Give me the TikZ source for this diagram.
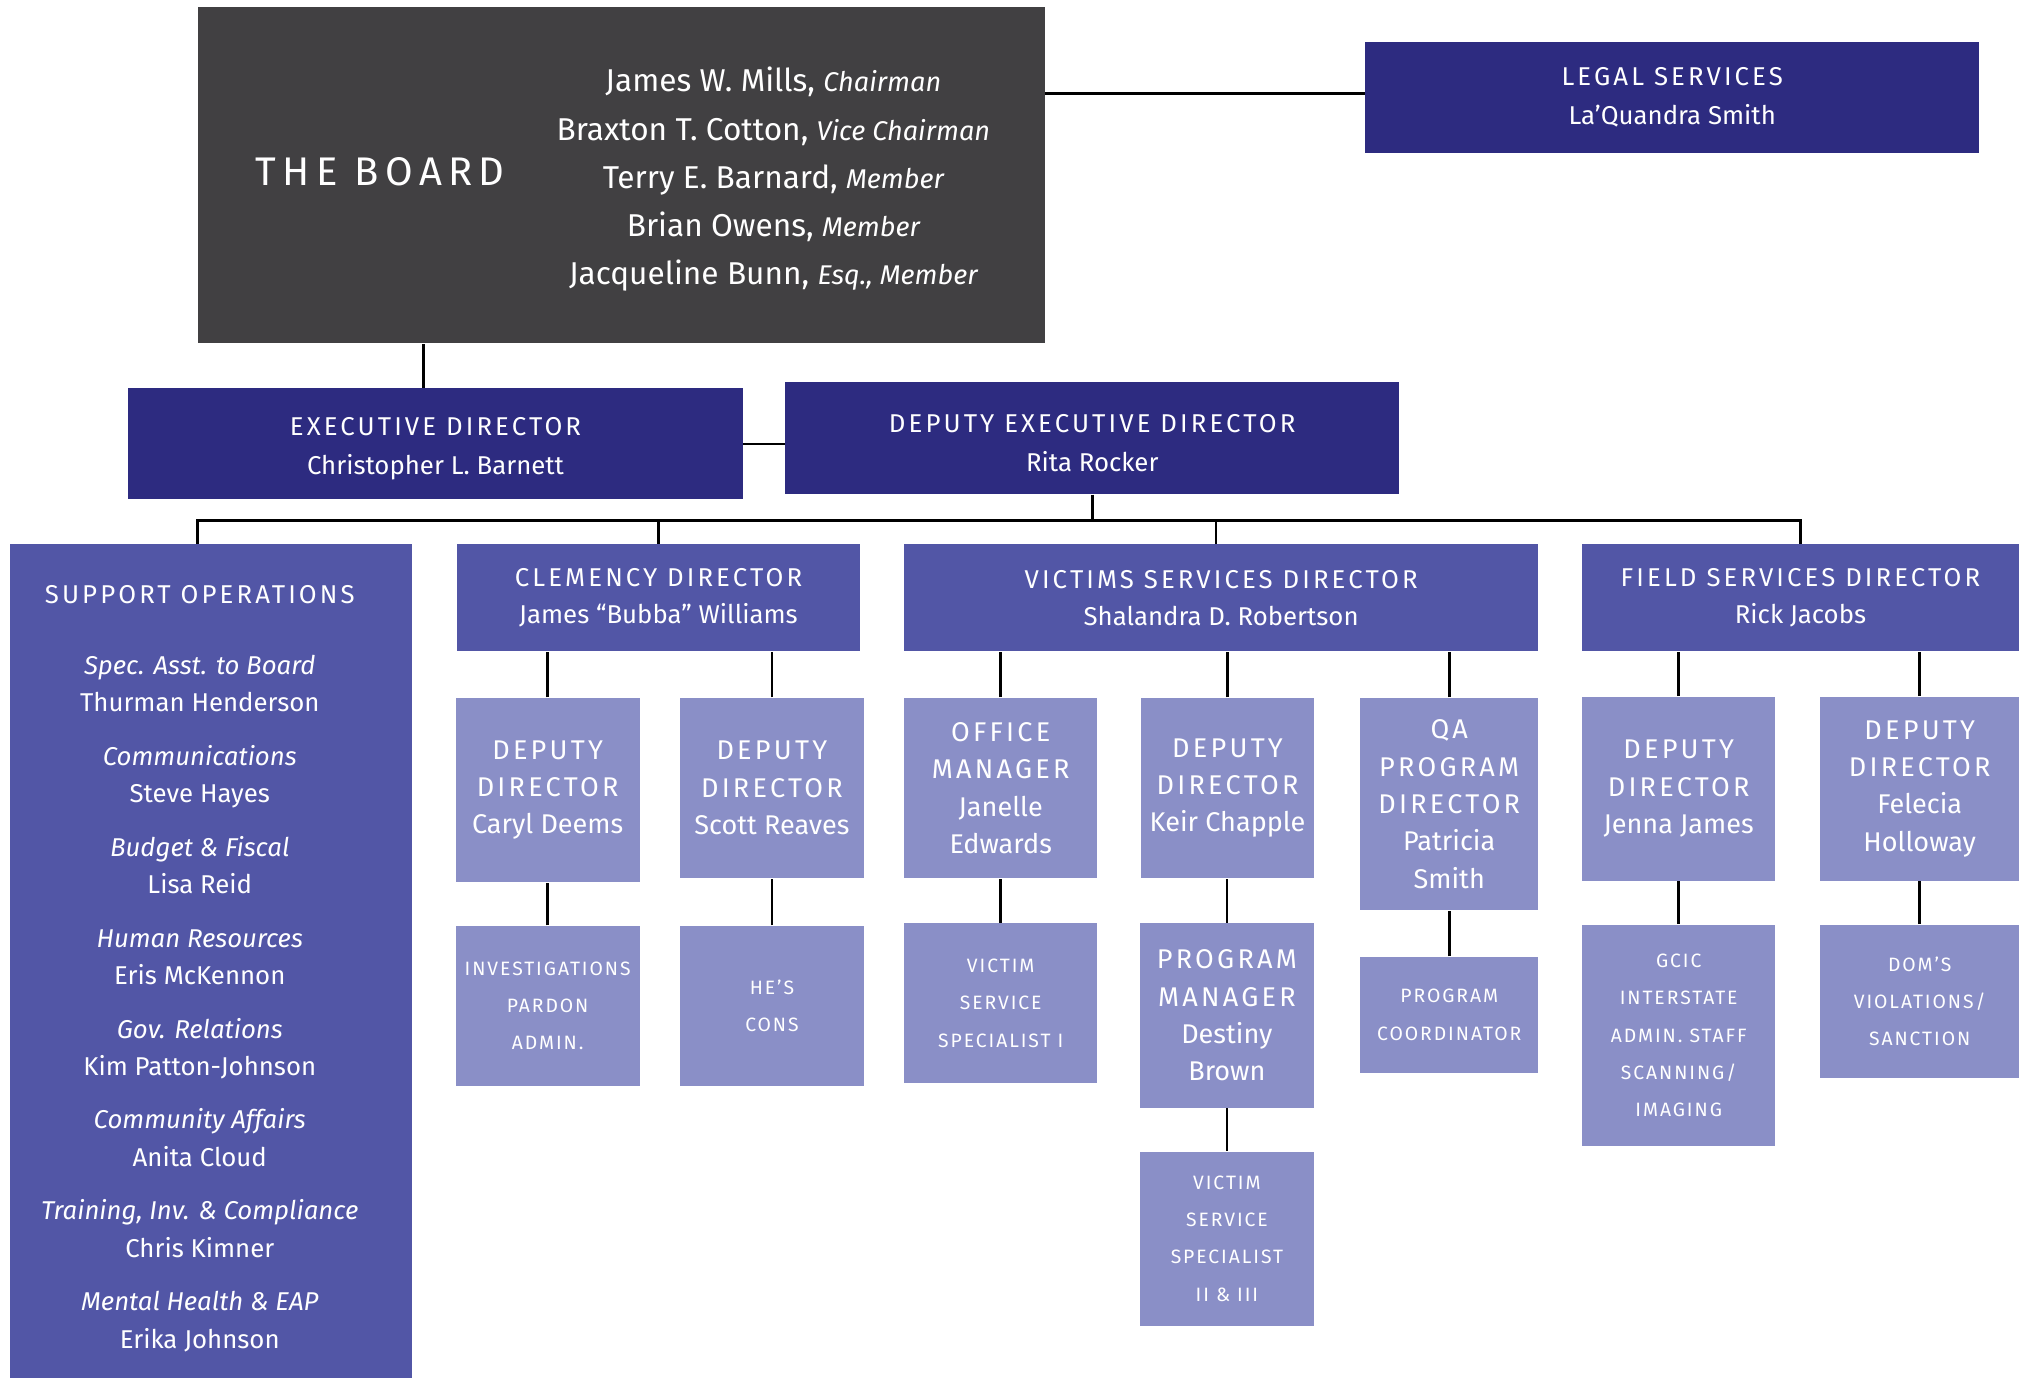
\documentclass[tikz,border=0pt]{standalone}
\usepackage{fontspec}
\setmainfont{Fira Sans}
\usepackage{tikz}
\usepackage{xcolor}
\definecolor{boardgray}{RGB}{65,64,66}
\definecolor{navy}{RGB}{45,43,128}
\definecolor{midblue}{RGB}{82,86,166}
\definecolor{lightblue}{RGB}{138,143,199}
\newcommand{\spaced}[1]{{\addfontfeature{LetterSpace=12}#1}}
\newcommand{\role}[1]{{\itshape #1}}
\newcommand{\seat}[1]{{\fontsize{10.5}{18.65}\selectfont\itshape #1}}

\begin{document}
\begin{tikzpicture}[x=0.5pt,y=-0.5pt,
    box/.style={anchor=north west,inner sep=0pt,align=center,text=white},
    headbox/.style={box,fill=navy,font=\fontsize{10}{15}\selectfont},
    dirbox/.style={box,fill=midblue,font=\fontsize{10}{14.5}\selectfont},
    subbox/.style={box,fill=lightblue,font=\fontsize{10.5}{14.5}\selectfont},
    smallbox/.style={box,fill=lightblue,font=\fontsize{7.5}{14.5}\selectfont\addfontfeature{LetterSpace=10}},
    conn/.style={draw=black,line width=1pt}]

    \useasboundingbox (0,0) rectangle (1568,1069);

    % board and legal
    \node[box,fill=boardgray,minimum width=328.5pt,minimum height=130.5pt] (board) at (153,5) {};
    \node[text=white,font=\fontsize{15.5}{18}\selectfont] (boardtitle) at (295,133)
        {{\addfontfeature{LetterSpace=16}THE BOARD}};
    \node[text=white,align=center,font=\fontsize{12.25}{18.65}\selectfont] (members) at (600,139)
        {James W. Mills, \seat{Chairman}\\
         Braxton T. Cotton, \seat{Vice Chairman}\\
         Terry E. Barnard, \seat{Member}\\
         Brian Owens, \seat{Member}\\
         Jacqueline Bunn, \seat{Esq., Member}};

    \node[headbox,minimum width=238pt,minimum height=43pt] (legal) at (1059,32)
        {\spaced{LEGAL SERVICES}\\ La’Quandra Smith};

    % executive level
    \node[headbox,minimum width=238.5pt,minimum height=43pt] (exec) at (99,301)
        {\rule{0pt}{10.9pt}\spaced{EXECUTIVE DIRECTOR}\\ Christopher L. Barnett};
    \node[headbox,minimum width=238pt,minimum height=43.5pt] (depexec) at (609,296)
        {\rule{0pt}{10.9pt}\spaced{DEPUTY EXECUTIVE DIRECTOR}\\ Rita Rocker};

    % directors
    \node[box,fill=midblue,minimum width=156pt,minimum height=323.5pt] (supp) at (7,422) {};
    \node[text=white,align=center,inner sep=0pt,font=\fontsize{10}{14.5}\selectfont] (supptext) at (155,751.5)
        {\spaced{SUPPORT OPERATIONS}\\[13pt]
         \role{Spec. Asst. to Board}\\ Thurman Henderson\\[6.25pt]
         \role{Communications}\\ Steve Hayes\\[6.25pt]
         \role{Budget \& Fiscal}\\ Lisa Reid\\[6.25pt]
         \role{Human Resources}\\ Eris McKennon\\[6.25pt]
         \role{Gov. Relations}\\ Kim Patton-Johnson\\[6.25pt]
         \role{Community Affairs}\\ Anita Cloud\\[6.25pt]
         \role{Training, Inv. \& Compliance}\\ Chris Kimner\\[6.25pt]
         \role{Mental Health \& EAP}\\ Erika Johnson};
    \node[dirbox,minimum width=156.5pt,minimum height=41.5pt] (clem) at (354,422)
        {\spaced{CLEMENCY DIRECTOR}\\ James “Bubba” Williams};
    \node[dirbox,minimum width=246pt,minimum height=41.5pt] (vict) at (701,422)
        {\spaced{VICTIMS SERVICES DIRECTOR}\\ Shalandra D. Robertson};
    \node[dirbox,minimum width=169.5pt,minimum height=41.5pt] (field) at (1227,422)
        {\spaced{FIELD SERVICES DIRECTOR}\\ Rick Jacobs};

    % clemency
    \node[subbox,minimum width=71.5pt,minimum height=71.5pt] (caryl) at (353,541)
        {\spaced{DEPUTY}\\ \spaced{DIRECTOR}\\ Caryl Deems};
    \node[subbox,minimum width=71.5pt,minimum height=70pt] (scott) at (527,541)
        {\spaced{DEPUTY}\\ \spaced{DIRECTOR}\\ Scott Reaves};
    \node[smallbox,minimum width=71.5pt,minimum height=62pt] (inv) at (353,718)
        {INVESTIGATIONS\\ PARDON\\ ADMIN.};
    \node[smallbox,minimum width=71.5pt,minimum height=62pt] (hes) at (527,718)
        {HE’S\\ CONS};

    % victims services
    \node[subbox,minimum width=75pt,minimum height=70pt] (office) at (701,541)
        {\spaced{OFFICE}\\ \spaced{MANAGER}\\ Janelle\\ Edwards};
    \node[smallbox,minimum width=75pt,minimum height=62pt] (vss1) at (701,716)
        {VICTIM\\ SERVICE\\ SPECIALIST I};
    \node[subbox,minimum width=67pt,minimum height=70pt] (keir) at (885,541)
        {\spaced{DEPUTY}\\ \spaced{DIRECTOR}\\ Keir Chapple};
    \node[subbox,minimum width=67.5pt,minimum height=71.5pt] (pm) at (884,716)
        {\spaced{PROGRAM}\\ \spaced{MANAGER}\\ Destiny\\ Brown};
    \node[smallbox,minimum width=67.5pt,minimum height=67.5pt] (vss2) at (884,893)
        {VICTIM\\ SERVICE\\ SPECIALIST\\ II \& III};
    \node[subbox,minimum width=69pt,minimum height=82.5pt] (qa) at (1055,541)
        {\spaced{QA}\\ \spaced{PROGRAM}\\ \spaced{DIRECTOR}\\ Patricia\\ Smith};
    \node[smallbox,minimum width=69pt,minimum height=45pt] (coord) at (1055,742)
        {PROGRAM\\ COORDINATOR};

    % field services
    \node[subbox,minimum width=75pt,minimum height=71.5pt] (jenna) at (1227,540)
        {\spaced{DEPUTY}\\ \spaced{DIRECTOR}\\ Jenna James};
    \node[subbox,minimum width=77pt,minimum height=71.5pt] (felecia) at (1412,540)
        {\spaced{DEPUTY}\\ \spaced{DIRECTOR}\\ Felecia\\ Holloway};
    \node[smallbox,minimum width=75pt,minimum height=86pt] (gcic) at (1227,717)
        {GCIC\\ INTERSTATE\\ ADMIN. STAFF\\ SCANNING/\\ IMAGING};
    \node[smallbox,minimum width=77pt,minimum height=59.5pt] (doms) at (1412,717)
        {DOM’S\\ VIOLATIONS/\\ SANCTION};

    % connectors
    \coordinate (bus) at (0,404);
    \coordinate (boarddrop) at ([xshift=-4.75pt]exec.north);
    \coordinate (suppdrop) at ([xshift=-5pt]supp.north);
    \coordinate (victdrop) at ([xshift=-2pt]vict.north);
    \coordinate (legalin) at ([yshift=1.5pt]legal.west);

    \draw[conn] (legalin) -- (legalin -| board.east);
    \draw[conn] (boarddrop) -- (boarddrop |- board.south);
    \draw[conn] (exec.east) -- (exec.east -| depexec.west);
    \draw[conn] (depexec.south) -- (depexec.south |- bus);
    \draw[conn] (suppdrop) |- (field.north |- bus) -- (field.north);
    \draw[conn] (clem.north) -- (clem.north |- bus);
    \draw[conn] (victdrop) -- (victdrop |- bus);

    \draw[conn] (caryl.north) -- (caryl.north |- clem.south);
    \draw[conn] (scott.north) -- (scott.north |- clem.south);
    \draw[conn] (inv.north) -- (inv.north |- caryl.south);
    \draw[conn] (hes.north) -- (hes.north |- scott.south);
    \draw[conn] (office.north) -- (office.north |- vict.south);
    \draw[conn] (vss1.north) -- (vss1.north |- office.south);
    \draw[conn] (keir.north) -- (keir.north |- vict.south);
    \draw[conn] (pm.north) -- (pm.north |- keir.south);
    \draw[conn] (vss2.north) -- (vss2.north |- pm.south);
    \draw[conn] (qa.north) -- (qa.north |- vict.south);
    \draw[conn] (coord.north) -- (coord.north |- qa.south);
    \draw[conn] (jenna.north) -- (jenna.north |- field.south);
    \draw[conn] (felecia.north) -- (felecia.north |- field.south);
    \draw[conn] (gcic.north) -- (gcic.north |- jenna.south);
    \draw[conn] (doms.north) -- (doms.north |- felecia.south);

\end{tikzpicture}
\end{document}
